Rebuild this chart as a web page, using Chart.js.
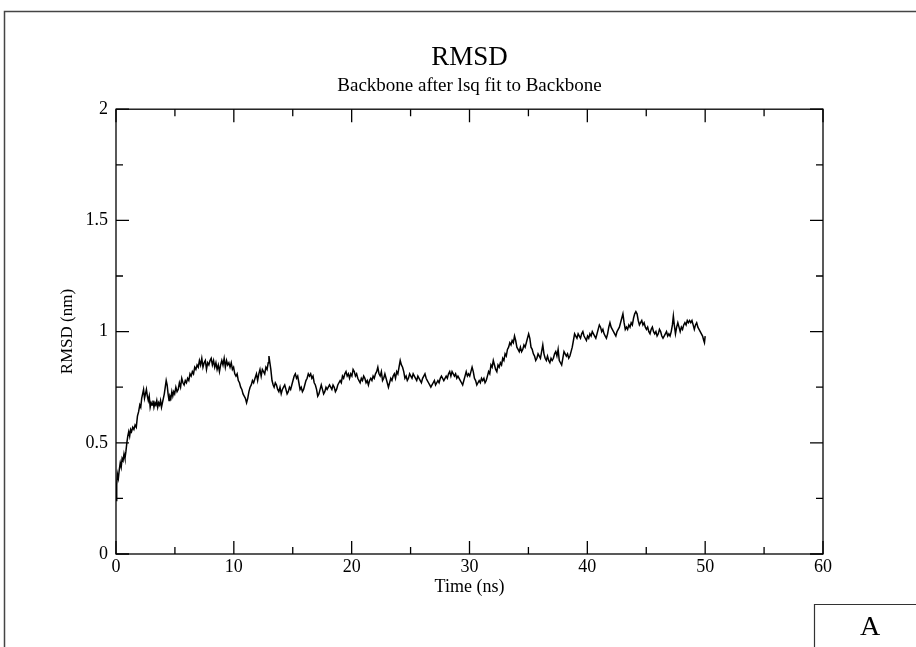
<!DOCTYPE html>
<html>
<head>
<meta charset="utf-8">
<script src="https://cdn.jsdelivr.net/npm/chart.js@4.4.1/dist/chart.umd.min.js"></script>
<style>
html,body{margin:0;padding:0;background:#fff;}
canvas{display:block;}
</style>
</head>
<body>
<canvas id="c" width="916" height="647"></canvas>
<script>
// ---- data ----
const chartTitle = 'RMSD';
const chartSubtitle = 'Backbone after lsq fit to Backbone';
const xAxisTitle = 'Time (ns)';
const yAxisTitle = 'RMSD (nm)';
const panelLabel = 'A';
const xTickValues = [0, 10, 20, 30, 40, 50, 60];
const xTickLabels = ['0', '10', '20', '30', '40', '50', '60'];
const yTickValues = [0, 0.5, 1, 1.5, 2];
const yTickLabels = ['0', '0.5', '1', '1.5', '2'];

const timeNs = [
0.00,0.06,0.12,0.20,0.28,0.36,0.44,0.52,0.60,0.68,0.76,0.84,0.92,1.00,1.08,1.16,1.24,1.32,1.42,1.52,
1.62,1.72,1.82,1.92,2.02,2.10,2.18,2.26,2.34,2.42,2.50,2.58,2.66,2.74,2.82,2.90,2.98,3.06,3.14,3.22,
3.30,3.38,3.46,3.54,3.62,3.70,3.78,3.86,3.94,4.02,4.10,4.18,4.26,4.34,4.42,4.50,4.58,4.66,4.74,4.82,
4.90,4.98,5.08,5.18,5.28,5.38,5.48,5.58,5.68,5.78,5.88,5.98,6.08,6.18,6.28,6.38,6.48,6.58,6.68,6.78,
6.88,6.98,7.08,7.18,7.28,7.38,7.48,7.58,7.68,7.78,7.88,7.98,8.08,8.18,8.28,8.38,8.48,8.58,8.68,8.78,
8.88,8.98,9.08,9.18,9.28,9.38,9.48,9.58,9.68,9.78,9.88,9.98,10.08,10.18,10.28,10.38,10.48,10.58,10.68,10.78,
10.88,10.98,11.08,11.18,11.28,11.38,11.48,11.58,11.68,11.80,11.92,12.02,12.12,12.22,12.32,12.42,12.52,12.62,12.72,12.82,
12.92,12.98,13.06,13.14,13.24,13.34,13.42,13.52,13.62,13.72,13.82,13.92,14.02,14.12,14.22,14.32,14.42,14.52,14.62,14.72,
14.82,14.92,15.02,15.12,15.22,15.32,15.42,15.52,15.62,15.72,15.82,15.92,16.02,16.12,16.22,16.32,16.42,16.52,16.62,16.72,
16.82,16.92,17.02,17.12,17.22,17.32,17.42,17.52,17.62,17.72,17.82,17.92,18.02,18.12,18.22,18.32,18.42,18.52,18.62,18.72,
18.82,18.92,19.02,19.12,19.22,19.32,19.42,19.52,19.62,19.72,19.82,19.92,20.02,20.12,20.22,20.32,20.42,20.52,20.62,20.72,
20.82,20.92,21.02,21.12,21.22,21.32,21.42,21.52,21.62,21.72,21.82,21.92,22.02,22.12,22.22,22.32,22.42,22.52,22.62,22.72,
22.82,22.92,23.02,23.12,23.22,23.32,23.42,23.52,23.62,23.72,23.82,23.92,24.02,24.12,24.22,24.32,24.42,24.52,24.62,24.72,
24.82,24.92,25.02,25.12,25.22,25.32,25.42,25.52,25.62,25.72,25.82,25.92,26.02,26.12,26.22,26.32,26.42,26.52,26.62,26.72,
26.82,26.92,27.02,27.12,27.22,27.32,27.42,27.52,27.62,27.72,27.82,27.92,28.02,28.12,28.22,28.32,28.42,28.52,28.62,28.72,
28.82,28.92,29.02,29.12,29.22,29.32,29.42,29.52,29.62,29.72,29.82,29.92,30.02,30.12,30.22,30.32,30.42,30.52,30.62,30.72,
30.82,30.92,31.02,31.12,31.22,31.32,31.42,31.52,31.62,31.72,31.82,31.92,32.02,32.12,32.22,32.32,32.42,32.52,32.62,32.72,
32.82,32.92,33.02,33.12,33.22,33.32,33.42,33.52,33.62,33.72,33.82,33.92,34.02,34.12,34.22,34.32,34.42,34.52,34.62,34.72,
34.82,34.92,35.02,35.12,35.22,35.32,35.42,35.52,35.62,35.72,35.82,35.92,36.02,36.12,36.22,36.32,36.42,36.52,36.62,36.72,
36.82,36.92,37.02,37.12,37.22,37.32,37.42,37.52,37.62,37.72,37.82,37.92,38.02,38.12,38.22,38.32,38.42,38.52,38.62,38.72,
38.82,38.92,39.02,39.12,39.22,39.32,39.42,39.52,39.62,39.72,39.82,39.92,40.02,40.12,40.22,40.32,40.42,40.52,40.62,40.72,
40.82,40.92,41.02,41.12,41.22,41.32,41.42,41.52,41.62,41.72,41.82,41.92,42.02,42.12,42.22,42.32,42.42,42.52,42.62,42.72,
42.82,42.92,43.02,43.12,43.22,43.32,43.42,43.52,43.62,43.72,43.82,43.92,44.02,44.12,44.22,44.32,44.42,44.52,44.62,44.72,
44.82,44.92,45.02,45.12,45.22,45.32,45.42,45.52,45.62,45.72,45.82,45.92,46.02,46.12,46.22,46.32,46.42,46.52,46.62,46.72,
46.82,46.92,47.02,47.12,47.22,47.30,47.38,47.48,47.58,47.68,47.78,47.88,47.98,48.08,48.18,48.28,48.38,48.48,48.58,48.68,
48.78,48.88,48.98,49.08,49.18,49.28,49.38,49.48,49.58,49.68,49.78,49.88,49.94,50.00
];

const rmsdNm = [
0.24,0.31,0.36,0.34,0.38,0.41,0.39,0.43,0.42,0.45,0.43,0.46,0.50,0.53,0.55,0.53,0.56,0.55,0.57,0.56,
0.58,0.57,0.62,0.64,0.67,0.66,0.70,0.72,0.74,0.70,0.72,0.74,0.71,0.69,0.71,0.66,0.68,0.67,0.69,0.66,
0.68,0.67,0.69,0.66,0.68,0.67,0.69,0.66,0.68,0.70,0.72,0.75,0.78,0.76,0.72,0.69,0.71,0.70,0.73,0.71,
0.73,0.72,0.75,0.73,0.74,0.77,0.75,0.79,0.77,0.76,0.78,0.77,0.79,0.78,0.81,0.80,0.82,0.81,0.84,0.83,
0.85,0.84,0.87,0.85,0.88,0.84,0.86,0.87,0.83,0.86,0.85,0.87,0.88,0.85,0.87,0.84,0.86,0.83,0.85,0.82,
0.85,0.87,0.85,0.88,0.84,0.87,0.85,0.86,0.84,0.86,0.83,0.84,0.81,0.80,0.81,0.78,0.77,0.75,0.74,0.72,
0.71,0.70,0.68,0.70,0.73,0.75,0.76,0.78,0.77,0.79,0.81,0.78,0.81,0.83,0.80,0.83,0.82,0.81,0.84,0.83,
0.86,0.89,0.86,0.83,0.78,0.76,0.75,0.77,0.76,0.74,0.73,0.75,0.72,0.74,0.75,0.76,0.74,0.72,0.73,0.75,
0.74,0.76,0.78,0.80,0.81,0.79,0.80,0.77,0.74,0.75,0.73,0.74,0.76,0.78,0.79,0.81,0.80,0.81,0.79,0.80,
0.77,0.76,0.74,0.71,0.72,0.74,0.76,0.74,0.72,0.73,0.75,0.74,0.75,0.76,0.75,0.74,0.76,0.75,0.73,0.74,
0.76,0.77,0.78,0.77,0.80,0.79,0.81,0.82,0.80,0.81,0.79,0.81,0.80,0.83,0.82,0.80,0.81,0.79,0.78,0.77,
0.79,0.78,0.80,0.79,0.77,0.78,0.76,0.78,0.79,0.78,0.80,0.79,0.81,0.82,0.84,0.81,0.80,0.82,0.78,0.79,
0.81,0.79,0.77,0.75,0.77,0.79,0.78,0.80,0.81,0.79,0.82,0.81,0.84,0.87,0.85,0.84,0.82,0.79,0.80,0.78,
0.79,0.81,0.80,0.79,0.81,0.80,0.79,0.78,0.80,0.79,0.78,0.77,0.79,0.80,0.81,0.79,0.78,0.77,0.76,0.75,
0.76,0.77,0.78,0.76,0.77,0.78,0.77,0.79,0.80,0.79,0.78,0.79,0.80,0.79,0.81,0.82,0.80,0.82,0.81,0.80,
0.81,0.79,0.80,0.79,0.78,0.77,0.76,0.78,0.80,0.82,0.80,0.81,0.80,0.82,0.84,0.82,0.79,0.78,0.76,0.77,
0.78,0.77,0.79,0.78,0.79,0.77,0.78,0.80,0.82,0.81,0.85,0.84,0.87,0.85,0.83,0.82,0.85,0.84,0.86,0.85,
0.88,0.87,0.90,0.89,0.92,0.93,0.95,0.94,0.96,0.95,0.98,0.96,0.93,0.92,0.91,0.93,0.91,0.92,0.94,0.93,
0.95,0.97,0.99,0.97,0.93,0.92,0.90,0.89,0.87,0.88,0.90,0.89,0.88,0.91,0.94,0.90,0.88,0.87,0.89,0.87,
0.86,0.88,0.87,0.88,0.90,0.91,0.89,0.92,0.87,0.86,0.85,0.88,0.91,0.90,0.89,0.90,0.88,0.89,0.91,0.93,
0.96,0.99,0.98,0.97,0.99,0.98,0.97,0.99,1.00,0.98,0.97,0.96,0.98,0.97,0.99,0.98,1.00,0.99,0.98,0.97,
0.99,1.01,1.03,1.02,1.00,1.01,0.99,0.98,0.97,0.99,1.02,1.04,1.02,1.01,1.00,0.99,0.98,1.00,1.01,1.02,
1.04,1.06,1.08,1.04,1.01,1.02,1.01,1.03,1.02,1.04,1.03,1.06,1.08,1.09,1.08,1.05,1.03,1.04,1.05,1.03,
1.04,1.02,1.01,1.02,1.00,0.99,1.01,1.02,1.00,0.99,1.00,0.98,0.99,1.01,1.00,0.98,0.97,0.98,0.99,1.00,
0.98,0.99,0.98,1.00,1.03,1.07,1.03,0.99,1.02,1.04,1.02,1.00,1.02,1.01,1.03,1.04,1.03,1.05,1.04,1.05,
1.04,1.05,1.03,1.01,1.03,1.04,1.02,1.01,1.00,0.99,0.98,0.96,0.95,0.98
];

const points = timeNs.map((t, i) => ({x: t, y: rmsdNm[i]}));

const SERIF = '"Liberation Serif", "DejaVu Serif", serif';

const framePlugin = {
  id: 'framePlugin',
  afterDraw(chart) {
    const ctx = chart.ctx;
    const {left, right, top, bottom} = chart.chartArea;
    const xs = chart.scales.x, ys = chart.scales.y;
    ctx.save();
    // plot box
    ctx.strokeStyle = '#000';
    ctx.lineWidth = 1.3;
    ctx.strokeRect(left, top, right - left, bottom - top);
    // inward ticks (major + minor) on all four sides
    const major = 13, minor = 7;
    ctx.beginPath();
    const xt = xs.ticks.map(t => t.value);
    xt.forEach((v, i) => {
      const px = xs.getPixelForValue(v);
      ctx.moveTo(px, bottom); ctx.lineTo(px, bottom - major);
      ctx.moveTo(px, top); ctx.lineTo(px, top + major);
      if (i < xt.length - 1) {
        const pm = xs.getPixelForValue((v + xt[i + 1]) / 2);
        ctx.moveTo(pm, bottom); ctx.lineTo(pm, bottom - minor);
        ctx.moveTo(pm, top); ctx.lineTo(pm, top + minor);
      }
    });
    const yt = ys.ticks.map(t => t.value);
    yt.forEach((v, i) => {
      const py = ys.getPixelForValue(v);
      ctx.moveTo(left, py); ctx.lineTo(left + major, py);
      ctx.moveTo(right, py); ctx.lineTo(right - major, py);
      if (i < yt.length - 1) {
        const pm = ys.getPixelForValue((v + yt[i + 1]) / 2);
        ctx.moveTo(left, pm); ctx.lineTo(left + minor, pm);
        ctx.moveTo(right, pm); ctx.lineTo(right - minor, pm);
      }
    });
    ctx.stroke();
    // outer page frame (top and left edges)
    ctx.strokeStyle = '#444';
    ctx.lineWidth = 1.5;
    ctx.beginPath();
    ctx.moveTo(4.5, chart.height); ctx.lineTo(4.5, 11.5); ctx.lineTo(chart.width, 11.5);
    ctx.stroke();
    // panel label box
    ctx.strokeStyle = '#333';
    ctx.lineWidth = 1.2;
    ctx.beginPath();
    ctx.moveTo(814.5, chart.height); ctx.lineTo(814.5, 604.5); ctx.lineTo(chart.width, 604.5);
    ctx.stroke();
    ctx.fillStyle = '#000';
    ctx.font = '28px ' + SERIF;
    ctx.textAlign = 'center';
    ctx.textBaseline = 'middle';
    ctx.fillText(panelLabel, 870, 628);
    ctx.restore();
  }
};

new Chart(document.getElementById('c'), {
  type: 'scatter',
  data: {
    datasets: [{
      data: points,
      showLine: true,
      borderColor: '#000',
      borderWidth: 1.5,
      pointRadius: 0,
      pointHoverRadius: 0,
      tension: 0,
      fill: false
    }]
  },
  options: {
    responsive: false,
    animation: false,
    events: [],
    layout: {padding: {left: 0, right: 93, top: 0, bottom: 43}},
    plugins: {
      legend: {display: false},
      tooltip: {enabled: false},
      title: {
        display: true, text: chartTitle, color: '#000', fullSize: false,
        font: {family: SERIF, size: 27, weight: 'normal', lineHeight: 1.2},
        padding: {top: 42, bottom: 0}
      },
      subtitle: {
        display: true, text: chartSubtitle, color: '#000', fullSize: false,
        font: {family: SERIF, size: 19, weight: 'normal', lineHeight: 1.2},
        padding: {top: 0, bottom: 12}
      }
    },
    scales: {
      x: {
        type: 'linear', min: 0, max: 60,
        afterBuildTicks(s) { s.ticks = xTickValues.map(v => ({value: v})); },
        afterFit(s) { s.height = 50; },
        grid: {display: false, drawTicks: false},
        border: {display: false},
        ticks: {
          color: '#000', padding: 2, maxRotation: 0, autoSkip: false,
          font: {family: SERIF, size: 18},
          callback: (v) => { const i = xTickValues.indexOf(v); return i >= 0 ? xTickLabels[i] : ''; }
        },
        title: {
          display: true, text: xAxisTitle, color: '#000',
          font: {family: SERIF, size: 18},
          padding: {top: 0, bottom: 6}
        }
      },
      y: {
        type: 'linear', min: 0, max: 2,
        afterBuildTicks(s) { s.ticks = yTickValues.map(v => ({value: v})); },
        afterFit(s) { s.width = 116; },
        grid: {display: false, drawTicks: false},
        border: {display: false},
        ticks: {
          color: '#000', padding: 8, autoSkip: false,
          font: {family: SERIF, size: 18},
          callback: (v) => { const i = yTickValues.indexOf(v); return i >= 0 ? yTickLabels[i] : ''; }
        },
        title: {
          display: true, text: yAxisTitle, color: '#000',
          font: {family: SERIF, size: 17},
          padding: {top: 57, bottom: 0}
        }
      }
    }
  },
  plugins: [framePlugin]
});
</script>
</body>
</html>
